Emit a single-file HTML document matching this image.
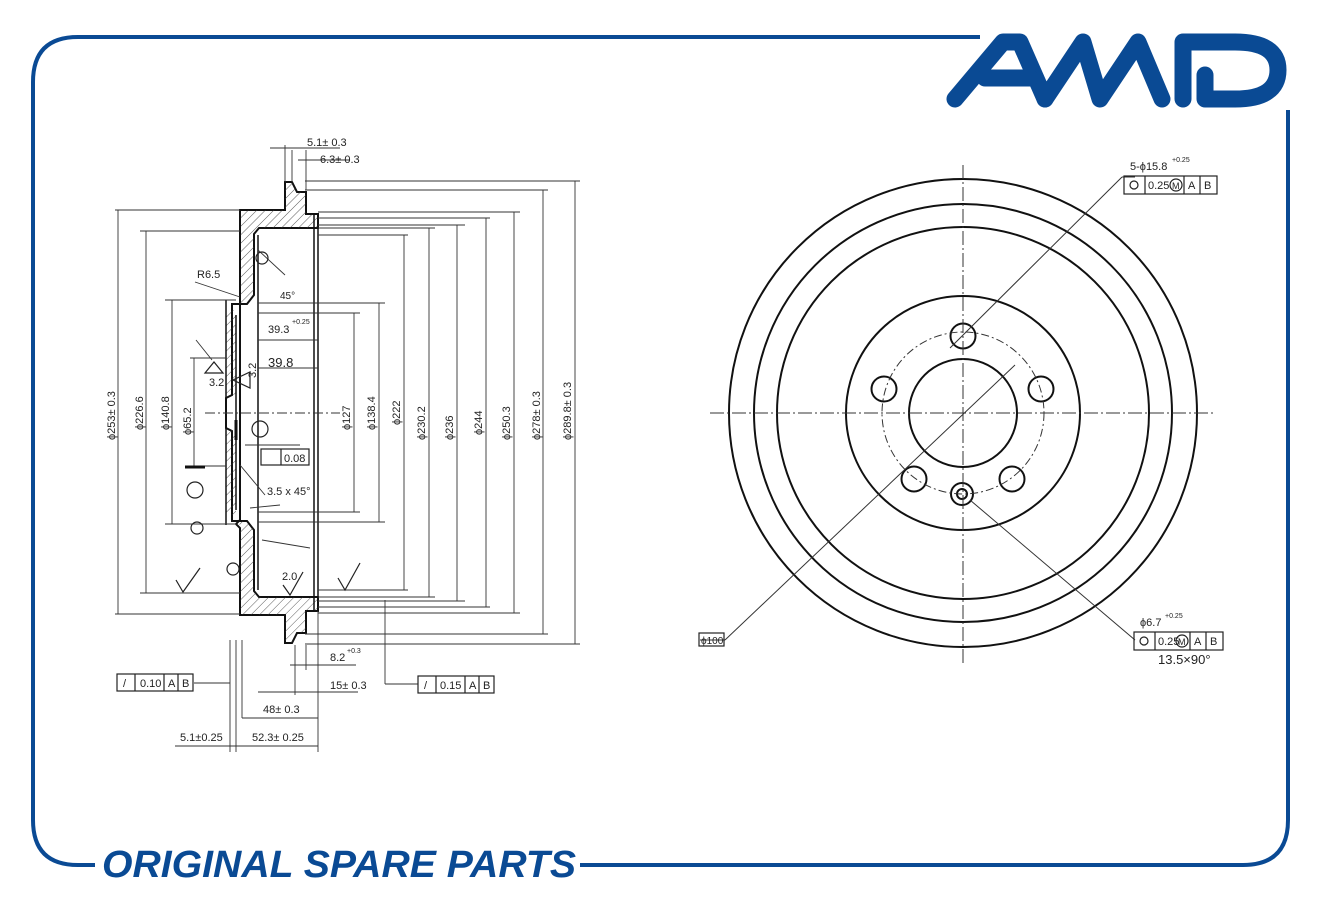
<!DOCTYPE html>
<html><head><meta charset="utf-8"><style>
html,body{margin:0;padding:0;background:#fff;width:1321px;height:900px;overflow:hidden}
svg{display:block}
text{font-family:"Liberation Sans",sans-serif;fill:#222}
.d{font-size:11px}
</style></head><body>
<svg width="1321" height="900" viewBox="0 0 1321 900" xmlns="http://www.w3.org/2000/svg">
<defs>
<pattern id="h" width="6" height="6" patternUnits="userSpaceOnUse" patternTransform="rotate(45)">
<line x1="0" y1="0" x2="0" y2="6" stroke="#333" stroke-width="0.8"/></pattern>
</defs>
<!-- frame -->
<path d="M980,37 H78 Q33,37 33,82 V820 Q33,865 78,865 H95" fill="none" stroke="#0a4a94" stroke-width="4"/>
<path d="M580,865 H1243 Q1288,865 1288,820 V110" fill="none" stroke="#0a4a94" stroke-width="4"/>
<!-- logo -->
<g fill="none" stroke="#0a4a94" stroke-width="17" stroke-linecap="round" stroke-linejoin="round">
<path d="M955,99 L1003,42 L1020,42 L1045,99"/>
<path d="M985,78 L1030,78"/>
<path d="M1045,99 L1083,42 L1100,99 L1138,42 L1162,99"/>
<path d="M1183,99 V42 H1235 Q1278,42 1278,70 Q1278,99 1235,99 H1205 V75"/>
</g>
<!-- bottom text -->
<text x="102" y="877" font-size="38" font-weight="bold" font-style="italic" textLength="474" lengthAdjust="spacingAndGlyphs" style="fill:#0a4a94;font-family:'Liberation Sans',sans-serif">ORIGINAL SPARE PARTS</text>

<!-- RIGHT VIEW -->
<g fill="none" stroke="#111" stroke-width="2">
<circle cx="963" cy="413" r="234"/>
<circle cx="963" cy="413" r="209"/>
<circle cx="963" cy="413" r="186"/>
<circle cx="963" cy="413" r="117"/>
<circle cx="963" cy="413" r="54"/>
<circle cx="963" cy="336" r="12.5"/>
<circle cx="884" cy="389" r="12.5"/>
<circle cx="1041" cy="389" r="12.5"/>
<circle cx="914" cy="479" r="12.5"/>
<circle cx="1012" cy="479" r="12.5"/>
<circle cx="962" cy="494" r="11"/>
<circle cx="962" cy="494" r="5"/>
</g>
<g fill="none" stroke="#333" stroke-width="1">
<circle cx="963" cy="413" r="81" stroke-dasharray="8,3,2,3"/>
<line x1="710" y1="413" x2="1215" y2="413" stroke-dasharray="14,3,2,3"/>
<line x1="963" y1="165" x2="963" y2="665" stroke-dasharray="14,3,2,3"/>
<line x1="1122" y1="177" x2="950" y2="348"/>
<line x1="1122" y1="177" x2="1135" y2="177"/>
<line x1="725" y1="640" x2="1015" y2="365"/>
<line x1="700" y1="640" x2="725" y2="640"/>
<line x1="970" y1="500" x2="1135" y2="640"/>
</g>
<text x="1130" y="170" class="d">5-ϕ15.8</text><text x="1172" y="162" font-size="7">+0.25</text>
<g fill="none" stroke="#222" stroke-width="1.2"><rect x="1124" y="176" width="93" height="18"/><line x1="1145" y1="176" x2="1145" y2="194"/><line x1="1184" y1="176" x2="1184" y2="194"/><line x1="1200" y1="176" x2="1200" y2="194"/><circle cx="1134" cy="185" r="4"/><circle cx="1176" cy="185" r="6"/>
<rect x="1134" y="632" width="89" height="18"/><line x1="1155" y1="632" x2="1155" y2="650"/><line x1="1190" y1="632" x2="1190" y2="650"/><line x1="1206" y1="632" x2="1206" y2="650"/><circle cx="1144" cy="641" r="4"/><circle cx="1182" cy="641" r="6"/>
<rect x="699" y="633" width="25" height="13"/></g>
<text x="1148" y="189" class="d">0.25</text><text x="1172" y="189" font-size="9">M</text><text x="1188" y="189" class="d">A</text><text x="1204" y="189" class="d">B</text>
<text x="1140" y="626" class="d">ϕ6.7</text><text x="1165" y="618" font-size="7">+0.25</text>
<text x="1158" y="645" class="d">0.25</text><text x="1178" y="645" font-size="9">M</text><text x="1194" y="645" class="d">A</text><text x="1210" y="645" class="d">B</text>
<text x="1158" y="664" font-size="13">13.5×90°</text>
<text x="701" y="644" font-size="10">ϕ100</text>

<!-- LEFT SECTION -->
<path d="M240,210 H285 V182 H292 L297,192 H306 V214 H318 V228 H259 L254,234 V295 L247,304 H232 V395 L226,398 V428 L232,431 V521 H247 L254,530 V591 L259,597 H318 V611 H306 V633 H297 L292,643 H285 V615 H240 V528 L236,524 L240,520 Z" fill="none" stroke="#111" stroke-width="2"/>
<path d="M240,210 H285 V182 H292 L297,192 H306 V214 H318 V228 H259 L254,234 V295 L247,304 H236 L240,300 Z" fill="url(#h)"/>
<path d="M240,615 H285 V643 H292 L297,633 H306 V611 H318 V597 H259 L254,591 V530 L247,521 H236 L240,525 Z" fill="url(#h)"/>
<path d="M226,310 H236 V395 H226 Z M226,430 H236 V515 H226 Z" fill="url(#h)"/>
<g fill="none" stroke="#111" stroke-width="1.5">
<line x1="226" y1="300" x2="226" y2="525"/>
<line x1="240" y1="300" x2="240" y2="210"/>
<line x1="258" y1="235" x2="258" y2="590"/>
<line x1="314" y1="214" x2="314" y2="611"/>
<line x1="318" y1="214" x2="318" y2="611"/>
<line x1="236" y1="315" x2="236" y2="510"/>
</g>
<g fill="none" stroke="#333" stroke-width="0.9">
<!-- horizontal extension lines -->
<line x1="115" y1="210" x2="240" y2="210"/><line x1="115" y1="614" x2="240" y2="614"/>
<line x1="140" y1="231" x2="240" y2="231"/><line x1="140" y1="593" x2="240" y2="593"/>
<line x1="165" y1="300" x2="236" y2="300"/><line x1="165" y1="524" x2="236" y2="524"/>
<line x1="190" y1="358" x2="226" y2="358"/><line x1="190" y1="466" x2="226" y2="466"/>
<line x1="305" y1="181" x2="580" y2="181"/><line x1="305" y1="190" x2="548" y2="190"/>
<line x1="318" y1="212" x2="520" y2="212"/><line x1="318" y1="218" x2="490" y2="218"/>
<line x1="318" y1="225" x2="465" y2="225"/><line x1="318" y1="228" x2="435" y2="228"/>
<line x1="318" y1="235" x2="408" y2="235"/><line x1="258" y1="303" x2="385" y2="303"/>
<line x1="258" y1="313" x2="360" y2="313"/>
<line x1="258" y1="512" x2="360" y2="512"/><line x1="258" y1="522" x2="385" y2="522"/>
<line x1="318" y1="590" x2="408" y2="590"/><line x1="318" y1="597" x2="435" y2="597"/>
<line x1="318" y1="601" x2="465" y2="601"/><line x1="318" y1="607" x2="490" y2="607"/>
<line x1="318" y1="613" x2="520" y2="613"/><line x1="305" y1="634" x2="548" y2="634"/>
<line x1="305" y1="644" x2="580" y2="644"/>
<!-- vertical dim lines -->
<line x1="118" y1="210" x2="118" y2="614"/><line x1="146" y1="231" x2="146" y2="593"/>
<line x1="172" y1="300" x2="172" y2="524"/><line x1="194" y1="358" x2="194" y2="466"/>
<line x1="354" y1="313" x2="354" y2="512"/><line x1="379" y1="303" x2="379" y2="522"/>
<line x1="404" y1="235" x2="404" y2="590"/><line x1="429" y1="228" x2="429" y2="597"/>
<line x1="457" y1="225" x2="457" y2="601"/><line x1="486" y1="218" x2="486" y2="607"/>
<line x1="514" y1="212" x2="514" y2="613"/><line x1="543" y1="190" x2="543" y2="634"/>
<line x1="575" y1="181" x2="575" y2="644"/>
<!-- top small dims -->
<line x1="270" y1="148" x2="340" y2="148"/><line x1="285" y1="145" x2="285" y2="182"/>
<line x1="298" y1="160" x2="350" y2="160"/><line x1="292" y1="150" x2="292" y2="182"/><line x1="306" y1="150" x2="306" y2="190"/>
<!-- bottom dims -->
<line x1="230" y1="640" x2="230" y2="752"/><line x1="236" y1="640" x2="236" y2="752"/>
<line x1="242" y1="640" x2="242" y2="718"/><line x1="318" y1="611" x2="318" y2="752"/>
<line x1="295" y1="645" x2="295" y2="695"/><line x1="306" y1="645" x2="306" y2="670"/>
<line x1="385" y1="600" x2="385" y2="684"/><line x1="385" y1="684" x2="418" y2="684"/>
<line x1="290" y1="665" x2="356" y2="665"/><line x1="258" y1="692" x2="358" y2="692"/>
<line x1="242" y1="718" x2="318" y2="718"/><line x1="175" y1="746" x2="318" y2="746"/>
<line x1="194" y1="683" x2="230" y2="683"/>
<!-- center line -->
<line x1="205" y1="413" x2="340" y2="413" stroke-dasharray="10,3,2,3"/>
<!-- leaders -->
<line x1="195" y1="282" x2="240" y2="297"/><line x1="258" y1="250" x2="285" y2="275"/>
<line x1="245" y1="445" x2="300" y2="445" /><line x1="240" y1="465" x2="265" y2="495"/>
<line x1="250" y1="508" x2="280" y2="505"/><line x1="262" y1="540" x2="310" y2="548"/>
<line x1="258" y1="340" x2="318" y2="340"/><line x1="258" y1="368" x2="318" y2="368"/>
<line x1="196" y1="340" x2="212" y2="360"/>
</g>
<!-- datum symbols -->
<g fill="none" stroke="#222" stroke-width="1.2">
<circle cx="195" cy="490" r="8"/><circle cx="260" cy="429" r="8"/>
<rect x="261" y="449" width="48" height="16"/><line x1="281" y1="449" x2="281" y2="465"/>
<rect x="117" y="674" width="76" height="17"/><line x1="135" y1="674" x2="135" y2="691"/><line x1="164" y1="674" x2="164" y2="691"/><line x1="178" y1="674" x2="178" y2="691"/>
<rect x="418" y="676" width="76" height="17"/><line x1="436" y1="676" x2="436" y2="693"/><line x1="465" y1="676" x2="465" y2="693"/><line x1="479" y1="676" x2="479" y2="693"/>
<path d="M205,373 L214,362 L223,373 Z"/><path d="M233,380 L250,372 L250,388 Z"/>
<circle cx="262" cy="258" r="6"/><circle cx="233" cy="569" r="6"/><circle cx="197" cy="528" r="6"/>
<path d="M176,580 L183,592 L200,568"/><path d="M338,578 L345,590 L360,563"/><path d="M283,585 L290,595 L303,572"/>
</g>
<line x1="185" y1="467" x2="205" y2="467" stroke="#111" stroke-width="3"/>
<line x1="236" y1="420" x2="236" y2="440" stroke="#111" stroke-width="3"/>
<g class="d">
<text x="307" y="146">5.1± 0.3</text><text x="320" y="163">6.3± 0.3</text>
<text x="197" y="278">R6.5</text><text x="280" y="299" font-size="10">45°</text>
<text x="268" y="333">39.3</text><text x="292" y="324" font-size="7">+0.25</text>
<text x="268" y="367" font-size="13">39.8</text><text x="209" y="386">3.2</text>
<text x="284" y="462">0.08</text><text x="267" y="495">3.5 x 45°</text>
<text x="282" y="580">2.0</text>
<text x="330" y="661">8.2</text><text x="347" y="653" font-size="7">+0.3</text>
<text x="330" y="689">15± 0.3</text><text x="263" y="713">48± 0.3</text>
<text x="180" y="741">5.1±0.25</text><text x="252" y="741">52.3± 0.25</text>
<text x="123" y="687">/</text><text x="140" y="687">0.10</text><text x="168" y="687">A</text><text x="182" y="687">B</text>
<text x="424" y="689">/</text><text x="440" y="689">0.15</text><text x="469" y="689">A</text><text x="483" y="689">B</text>
</g>
<g class="d" font-size="10">
<text transform="translate(115,440) rotate(-90)">ϕ253± 0.3</text>
<text transform="translate(143,430) rotate(-90)">ϕ226.6</text>
<text transform="translate(169,430) rotate(-90)">ϕ140.8</text>
<text transform="translate(191,435) rotate(-90)">ϕ65.2</text>
<text transform="translate(256,378) rotate(-90)">3.2</text>
<text transform="translate(350,430) rotate(-90)">ϕ127</text>
<text transform="translate(375,430) rotate(-90)">ϕ138.4</text>
<text transform="translate(400,425) rotate(-90)">ϕ222</text>
<text transform="translate(425,440) rotate(-90)">ϕ230.2</text>
<text transform="translate(453,440) rotate(-90)">ϕ236</text>
<text transform="translate(482,435) rotate(-90)">ϕ244</text>
<text transform="translate(510,440) rotate(-90)">ϕ250.3</text>
<text transform="translate(540,440) rotate(-90)">ϕ278± 0.3</text>
<text transform="translate(571,440) rotate(-90)">ϕ289.8± 0.3</text>
</g>
</svg>
</body></html>
